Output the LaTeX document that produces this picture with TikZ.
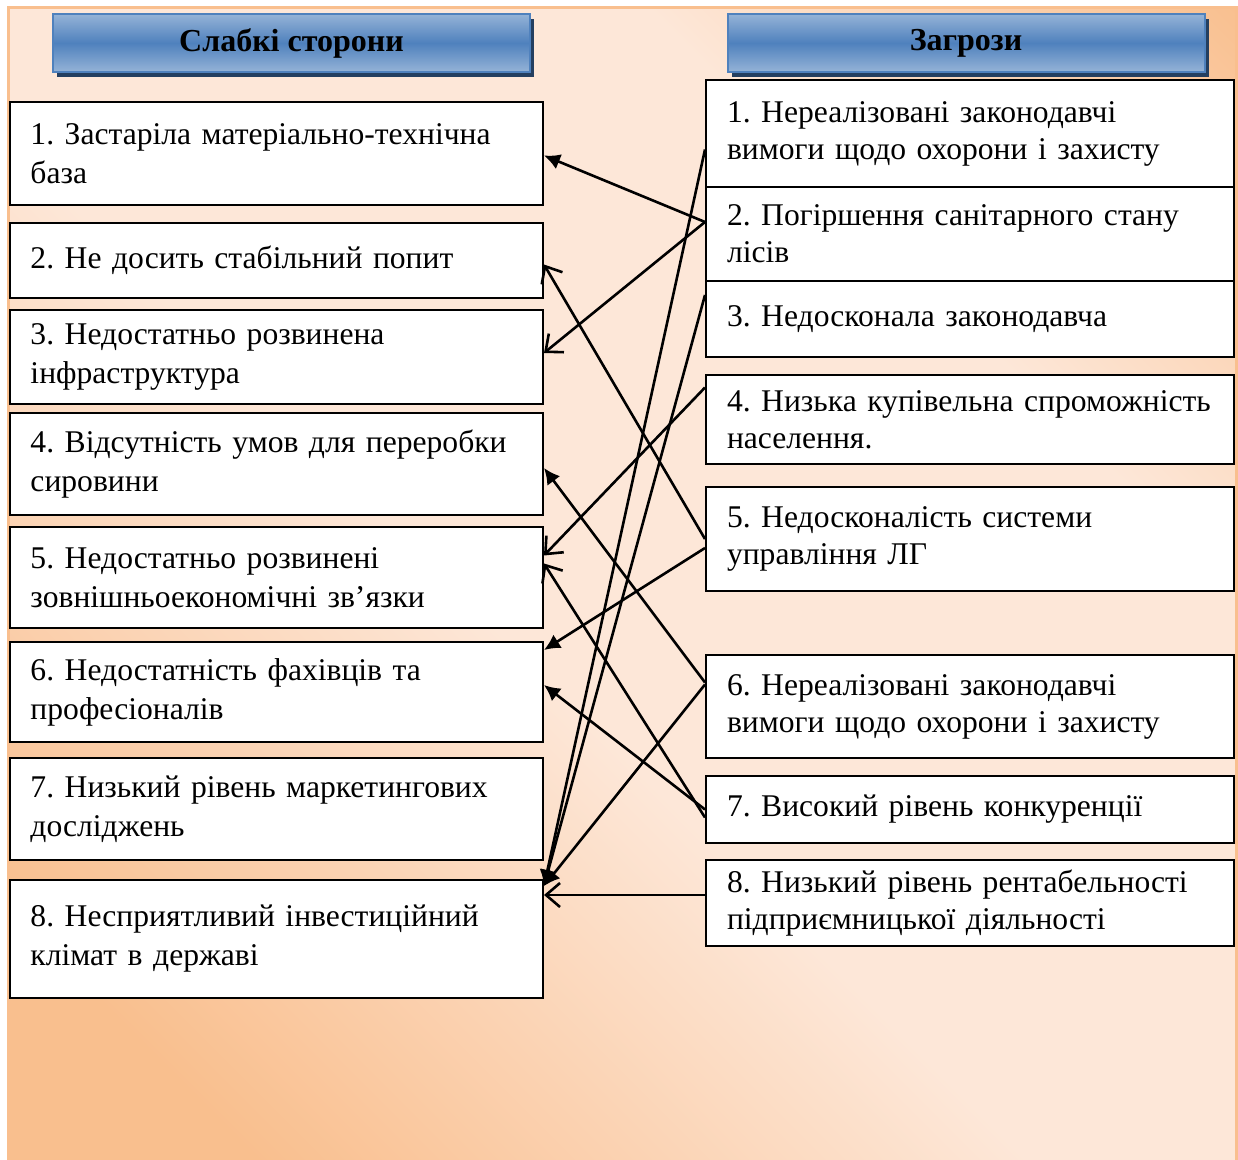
\documentclass[tikz,border=0pt]{standalone}
\usepackage{fontspec}
\setmainfont{Liberation Serif}
\usetikzlibrary{arrows.meta,shadows}
\definecolor{peach}{HTML}{FDE7D8}
\definecolor{apricot}{HTML}{F9BF8E}
\definecolor{hdlight}{HTML}{95B3D7}
\definecolor{hdmid}{HTML}{4F81BD}
\definecolor{hdnavy}{HTML}{243F60}
\pgfdeclareverticalshading{peachband}{100bp}{color(0bp)=(apricot); color(22bp)=(apricot); color(45bp)=(peach); color(68bp)=(peach); color(86bp)=(apricot); color(100bp)=(apricot)}

\begin{document}
\frenchspacing
\begin{tikzpicture}[x=0.5pt,y=-0.5pt,
    lbox/.style={draw, fill=white, line width=1pt, minimum width=266.5pt, text width=246pt, inner xsep=10pt, align=left, font=\fontsize{15.8}{19.5}\selectfont},
    rbox/.style={lbox, minimum width=264pt, text width=243pt, inner xsep=10.5pt, font=\fontsize{15.8}{18.5}\selectfont},
    head/.style={draw=hdmid, line width=1pt, top color=hdlight, bottom color=hdlight, middle color=hdmid, minimum width=238.5pt, minimum height=29pt, font=\fontsize{16}{16}\selectfont\bfseries, drop shadow={fill=hdnavy, opacity=1, shadow xshift=2pt, shadow yshift=-2.5pt}},
    fullhead/.style={-{Latex[length=8pt,width=8pt]}, line width=1.3pt},
    openhead/.style={-{Straight Barb[length=7pt,width=12pt]}, line width=1.3pt}]
        \useasboundingbox (0,0) rectangle (1238,1160);
        \draw[draw=apricot, line width=1.5pt, shading=peachband, shading angle=-45] (8,8) rectangle (1236,1164);

        \node[head] (hs) at (291.5,43) {Слабкі сторони};
        \node[head] (hz) at (966,43) {Загрози};

        \node[lbox, minimum height=51.5pt] (s1) at (276.5,153.5) {1. Застаріла матеріально-технічна\\база};
        \node[lbox, minimum height=37.5pt] (s2) at (276.5,260.5) {2. Не досить стабільний попит};
        \node[lbox, minimum height=47pt] (s3) at (276.5,357) {3. Недостатньо розвинена\\інфраструктура};
        \node[lbox, minimum height=51pt] (s4) at (276.5,464) {4. Відсутність умов для переробки\\сировини};
        \node[lbox, minimum height=50.5pt] (s5) at (276.5,577.5) {5. Недостатньо розвинені\\зовнішньоекономічні зв’язки};
        \node[lbox, minimum height=50pt] (s6) at (276.5,692) {6. Недостатність фахівців та\\професіоналів};
        \node[lbox, minimum height=51pt] (s7) at (276.5,809) {7. Низький рівень маркетингових\\досліджень};
        \node[lbox, minimum height=59pt] (s8) at (276.5,939) {8. Несприятливий інвестиційний\\клімат в державі};

        \node[rbox, minimum height=53.5pt] (z1) at (970,133.5) {1. Нереалізовані законодавчі\\вимоги щодо охорони і захисту};
        \node[rbox, minimum height=47pt] (z2) at (970,234) {2. Погіршення санітарного стану\\лісів};
        \node[rbox, minimum height=38pt] (z3) at (970,319) {3. Недосконала законодавча};
        \node[rbox, minimum height=44.5pt] (z4) at (970,419.5) {4. Низька купівельна спроможність\\населення.};
        \node[rbox, minimum height=52pt] (z5) at (970,539) {5. Недосконалість системи\\управління ЛГ};
        \node[rbox, minimum height=51.5pt] (z6) at (970,706.5) {6. Нереалізовані законодавчі\\вимоги щодо охорони і захисту};
        \node[rbox, minimum height=33.5pt] (z7) at (970,809.5) {7. Високий рівень конкуренції};
        \node[rbox, minimum height=43pt] (z8) at (970,903) {8. Низький рівень рентабельності\\підприємницької діяльності};

        \draw[fullhead] ([yshift=6pt]z2.west) -- ([yshift=-1pt]s1.east);
        \draw[openhead] ([yshift=6pt]z2.west) -- ([yshift=2pt]s3.east);
        \draw[fullhead] ([yshift=-8pt]z1.west) -- ([yshift=26.5pt]s8.east);
        \draw[fullhead] ([yshift=12pt]z3.west) -- ([yshift=26.5pt]s8.east);
        \draw[openhead] (z5.west) -- ([yshift=-2pt]s2.east);
        \draw[openhead] ([yshift=16pt]z4.west) -- ([yshift=11pt]s5.east);
        \draw[fullhead] ([yshift=-4.5pt]z5.west) -- ([yshift=21pt]s6.east);
        \draw[fullhead] ([yshift=12pt]z6.west) -- ([yshift=-2pt]s4.east);
        \draw[fullhead] (z7.west) -- ([yshift=3.5pt]s6.east);
        \draw[openhead] ([yshift=-4pt]z7.west) -- ([yshift=7pt]s5.east);
        \draw[fullhead] ([yshift=11pt]z6.west) -- ([yshift=26.5pt]s8.east);
        \draw[openhead] ([yshift=4pt]z8.west) -- ([yshift=22pt]s8.east);
      \end{tikzpicture}
\end{document}
